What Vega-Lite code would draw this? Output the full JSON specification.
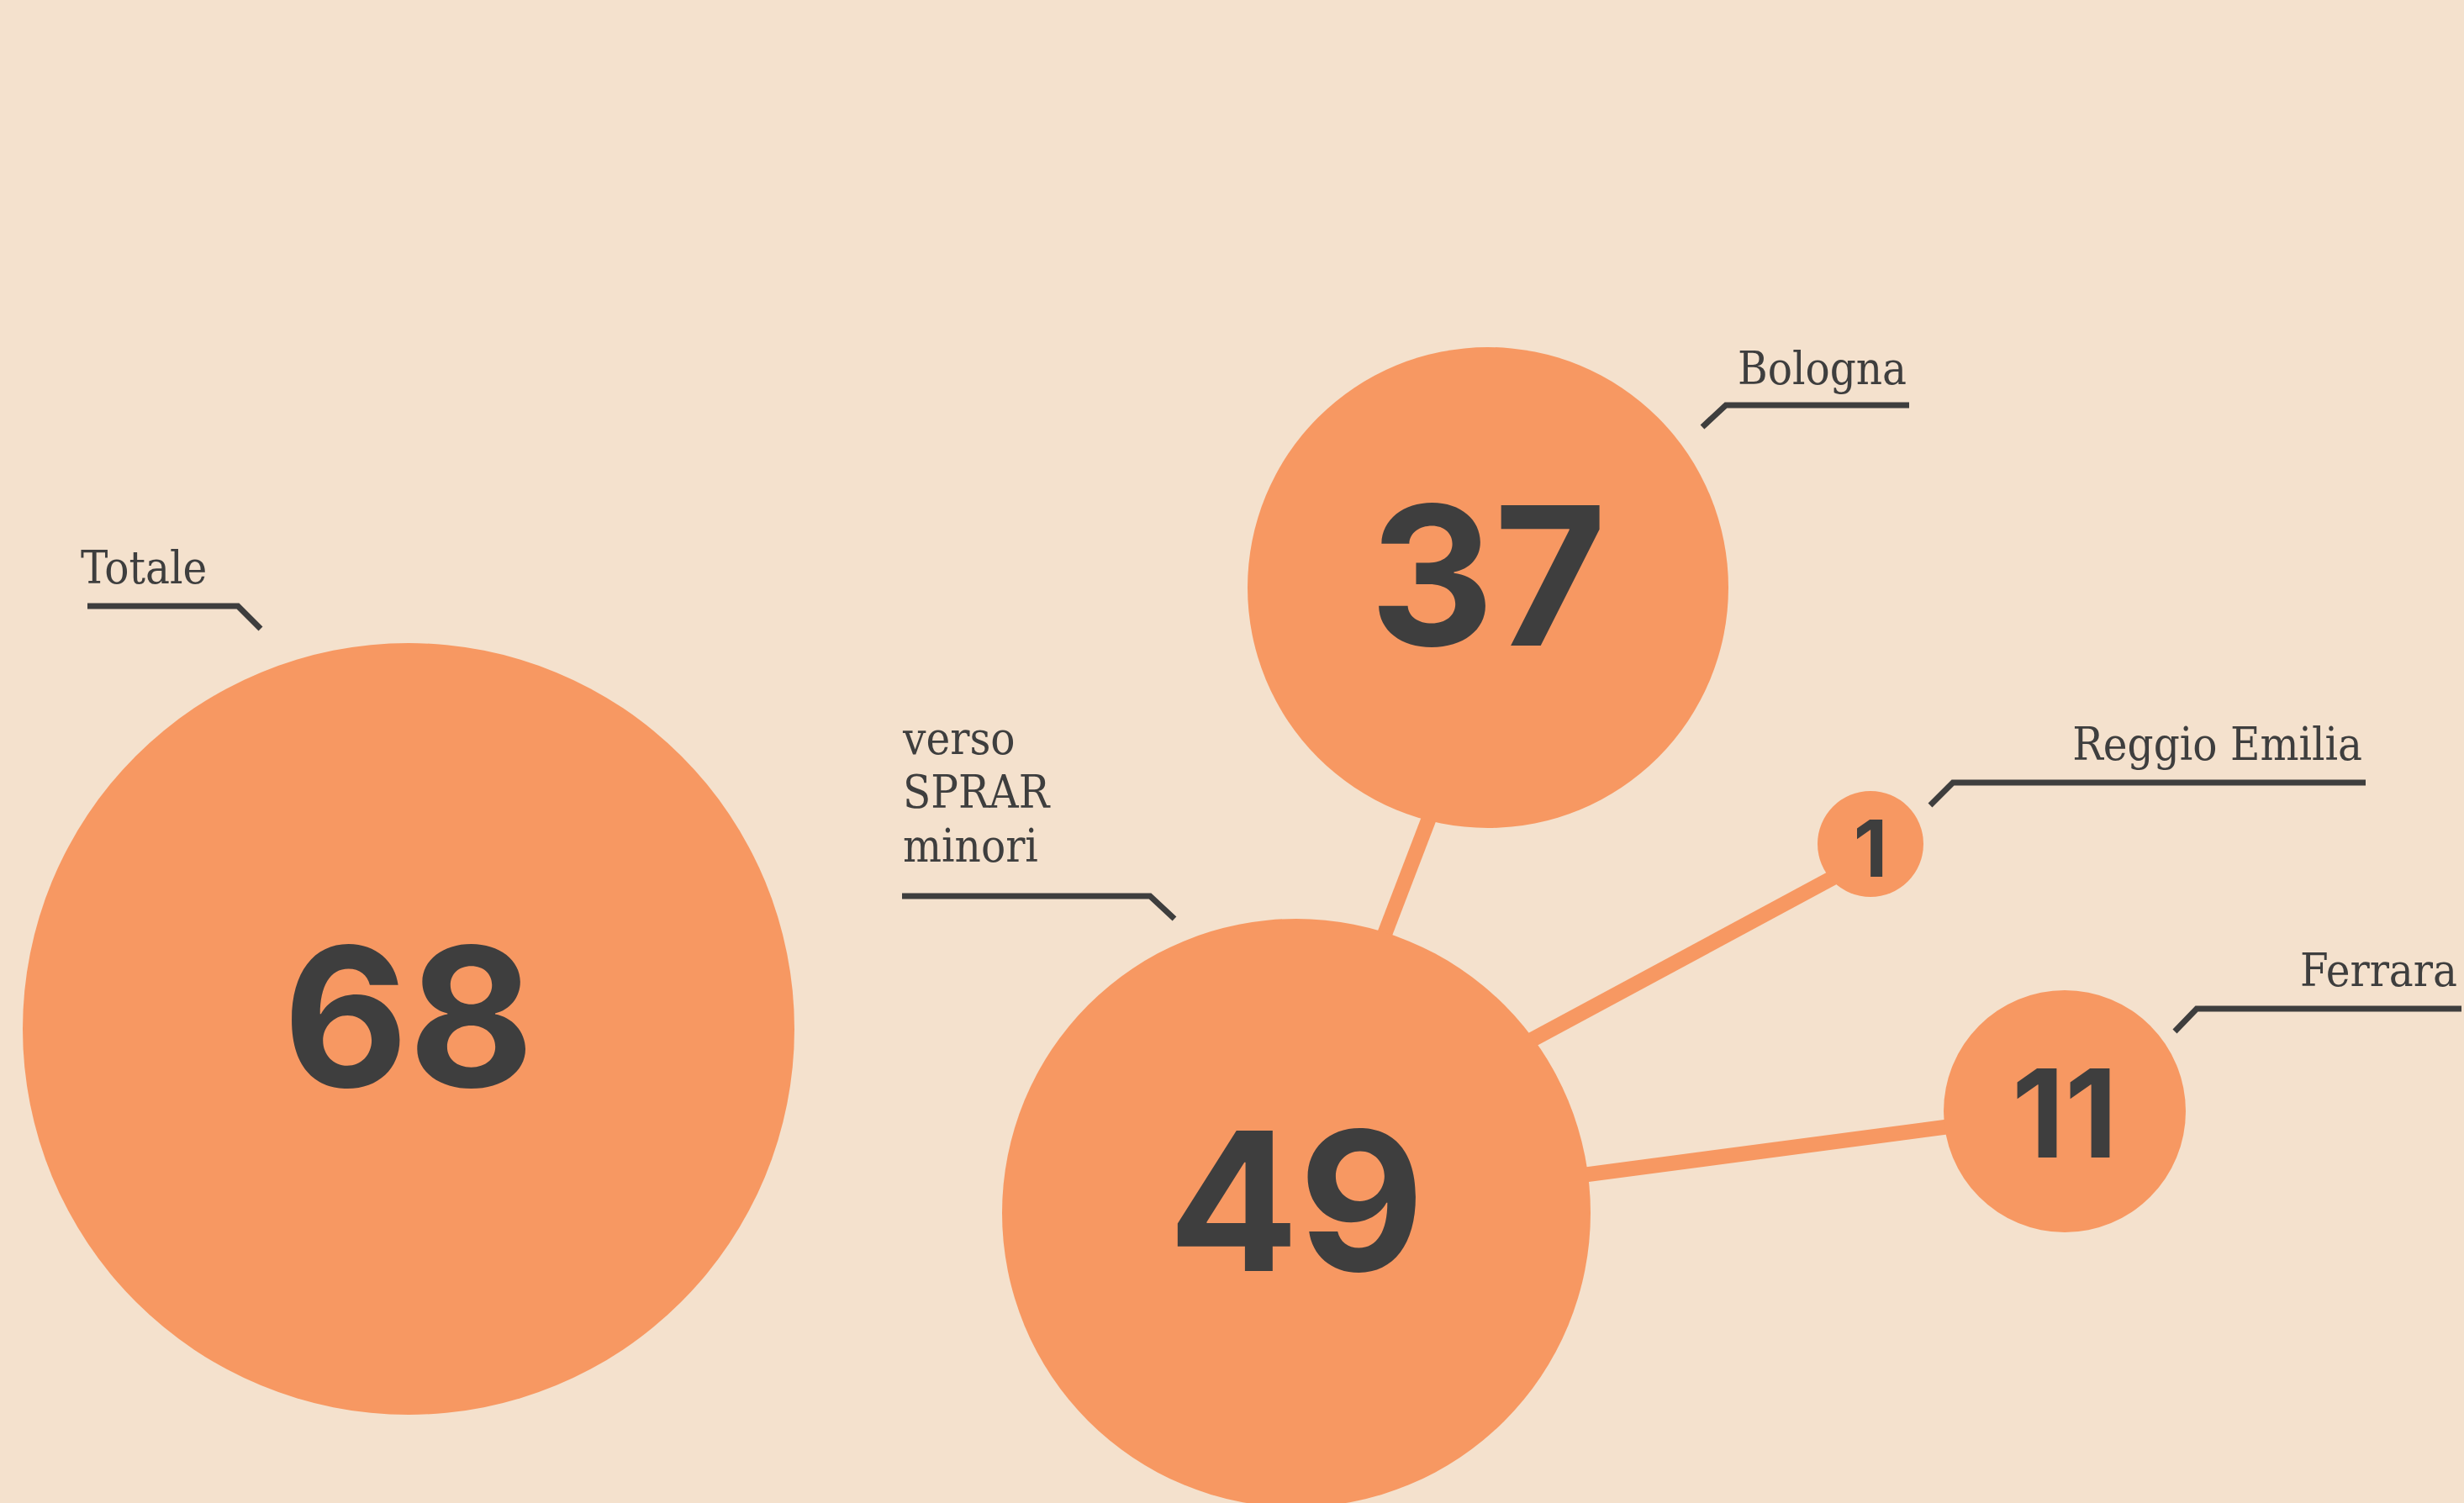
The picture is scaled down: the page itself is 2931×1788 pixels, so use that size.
{
  "$schema": "https://vega.github.io/schema/vega-lite/v6.json",
  "width": 2931,
  "height": 1788,
  "autosize": {"type": "none"},
  "padding": 0,
  "background": "#F4E1CD",
  "config": {"view": {"stroke": null}, "axis": {"disable": true}},
  "resolve": {"scale": {"size": "independent"}},
  "datasets": {
    "circles": [
      {"name": "Totale", "value": 68, "x": 486, "y": 1224},
      {"name": "verso SPRAR minori", "value": 49, "x": 1542, "y": 1443},
      {"name": "Bologna", "value": 37, "x": 1770, "y": 699},
      {"name": "Reggio Emilia", "value": 1, "x": 2225, "y": 1004},
      {"name": "Ferrara", "value": 11, "x": 2456, "y": 1322}
    ],
    "links": [
      {"to": "Bologna", "x": 1520, "y": 1443, "x2": 1805, "y2": 699},
      {"to": "Reggio Emilia", "x": 1542, "y": 1388, "x2": 2225, "y2": 1020},
      {"to": "Ferrara", "x": 1542, "y": 1443, "x2": 2456, "y2": 1322}
    ],
    "leaders": [
      {"label": "Totale", "seq": 1, "x": 104, "y": 721},
      {"label": "Totale", "seq": 2, "x": 283, "y": 721},
      {"label": "Totale", "seq": 3, "x": 310, "y": 748},
      {"label": "verso SPRAR minori", "seq": 1, "x": 1073, "y": 1066},
      {"label": "verso SPRAR minori", "seq": 2, "x": 1368, "y": 1066},
      {"label": "verso SPRAR minori", "seq": 3, "x": 1397, "y": 1093},
      {"label": "Bologna", "seq": 1, "x": 2025, "y": 508},
      {"label": "Bologna", "seq": 2, "x": 2053, "y": 482},
      {"label": "Bologna", "seq": 3, "x": 2271, "y": 482},
      {"label": "Reggio Emilia", "seq": 1, "x": 2296, "y": 958},
      {"label": "Reggio Emilia", "seq": 2, "x": 2323, "y": 931},
      {"label": "Reggio Emilia", "seq": 3, "x": 2814, "y": 931},
      {"label": "Ferrara", "seq": 1, "x": 2587, "y": 1227},
      {"label": "Ferrara", "seq": 2, "x": 2613, "y": 1200},
      {"label": "Ferrara", "seq": 3, "x": 2928, "y": 1200}
    ],
    "labels": [
      {"text": "Totale", "side": "left", "x": 96, "y": 694},
      {"text": "verso\nSPRAR\nminori", "side": "left", "x": 1074, "y": 897},
      {"text": "Bologna", "side": "right", "x": 2268, "y": 457},
      {"text": "Reggio Emilia", "side": "right", "x": 2810, "y": 904},
      {"text": "Ferrara", "side": "right", "x": 2923, "y": 1173}
    ]
  },
  "layer": [
    {
      "data": {"name": "links"},
      "mark": {"type": "rule", "color": "#F79862", "strokeWidth": 18, "strokeCap": "butt"},
      "encoding": {
        "x": {"field": "x", "type": "quantitative", "scale": {"domain": [0, 2931], "nice": false, "zero": false}, "axis": null},
        "y": {"field": "y", "type": "quantitative", "scale": {"domain": [0, 1788], "nice": false, "zero": false, "reverse": true}, "axis": null},
        "x2": {"field": "x2"},
        "y2": {"field": "y2"}
      }
    },
    {
      "data": {"name": "circles"},
      "mark": {"type": "circle", "color": "#F79862", "opacity": 1, "strokeWidth": 0},
      "encoding": {
        "x": {"field": "x", "type": "quantitative", "scale": {"domain": [0, 2931], "nice": false, "zero": false}, "axis": null},
        "y": {"field": "y", "type": "quantitative", "scale": {"domain": [0, 1788], "nice": false, "zero": false, "reverse": true}, "axis": null},
        "size": {"field": "value", "type": "quantitative", "legend": null, "scale": {"type": "linear", "zero": false, "nice": false, "domain": [1, 11, 37, 49, 68], "range": [15876, 82944, 327184, 490000, 842724]}}
      }
    },
    {
      "data": {"name": "circles"},
      "transform": [{"filter": "datum.value >= 37"}],
      "mark": {"type": "text", "font": "Inter", "fontWeight": 700, "fontSize": 230, "color": "#3E3E3E", "align": "center", "baseline": "middle"},
      "encoding": {
        "x": {"field": "x", "type": "quantitative", "scale": {"domain": [0, 2931], "nice": false, "zero": false}, "axis": null},
        "y": {"field": "y", "type": "quantitative", "scale": {"domain": [0, 1788], "nice": false, "zero": false, "reverse": true}, "axis": null},
        "text": {"field": "value", "type": "quantitative"}
      }
    },
    {
      "data": {"name": "circles"},
      "transform": [{"filter": "datum.value < 37"}],
      "mark": {"type": "text", "font": "Inter", "fontWeight": 700, "color": "#3E3E3E", "align": "center", "baseline": "middle", "dy": 11},
      "encoding": {
        "x": {"field": "x", "type": "quantitative", "scale": {"domain": [0, 2931], "nice": false, "zero": false}, "axis": null},
        "y": {"field": "y", "type": "quantitative", "scale": {"domain": [0, 1788], "nice": false, "zero": false, "reverse": true}, "axis": null},
        "text": {"field": "value", "type": "quantitative"},
        "size": {"field": "value", "type": "quantitative", "legend": null, "scale": {"type": "linear", "zero": false, "nice": false, "domain": [1, 11], "range": [94, 146]}}
      }
    },
    {
      "data": {"name": "leaders"},
      "mark": {"type": "line", "color": "#3E3E3E", "strokeWidth": 7, "strokeCap": "butt", "strokeJoin": "miter"},
      "encoding": {
        "x": {"field": "x", "type": "quantitative", "scale": {"domain": [0, 2931], "nice": false, "zero": false}, "axis": null},
        "y": {"field": "y", "type": "quantitative", "scale": {"domain": [0, 1788], "nice": false, "zero": false, "reverse": true}, "axis": null},
        "detail": {"field": "label", "type": "nominal"},
        "order": {"field": "seq", "type": "quantitative"}
      }
    },
    {
      "data": {"name": "labels"},
      "transform": [{"filter": "datum.side === 'left'"}],
      "mark": {"type": "text", "font": "DejaVu Serif Condensed, DejaVu Serif", "fontSize": 54, "color": "#3E3E3E", "align": "left", "baseline": "alphabetic", "lineBreak": "\n", "lineHeight": 64},
      "encoding": {
        "x": {"field": "x", "type": "quantitative", "scale": {"domain": [0, 2931], "nice": false, "zero": false}, "axis": null},
        "y": {"field": "y", "type": "quantitative", "scale": {"domain": [0, 1788], "nice": false, "zero": false, "reverse": true}, "axis": null},
        "text": {"field": "text", "type": "nominal"}
      }
    },
    {
      "data": {"name": "labels"},
      "transform": [{"filter": "datum.side === 'right'"}],
      "mark": {"type": "text", "font": "DejaVu Serif Condensed, DejaVu Serif", "fontSize": 54, "color": "#3E3E3E", "align": "right", "baseline": "alphabetic"},
      "encoding": {
        "x": {"field": "x", "type": "quantitative", "scale": {"domain": [0, 2931], "nice": false, "zero": false}, "axis": null},
        "y": {"field": "y", "type": "quantitative", "scale": {"domain": [0, 1788], "nice": false, "zero": false, "reverse": true}, "axis": null},
        "text": {"field": "text", "type": "nominal"}
      }
    }
  ]
}
